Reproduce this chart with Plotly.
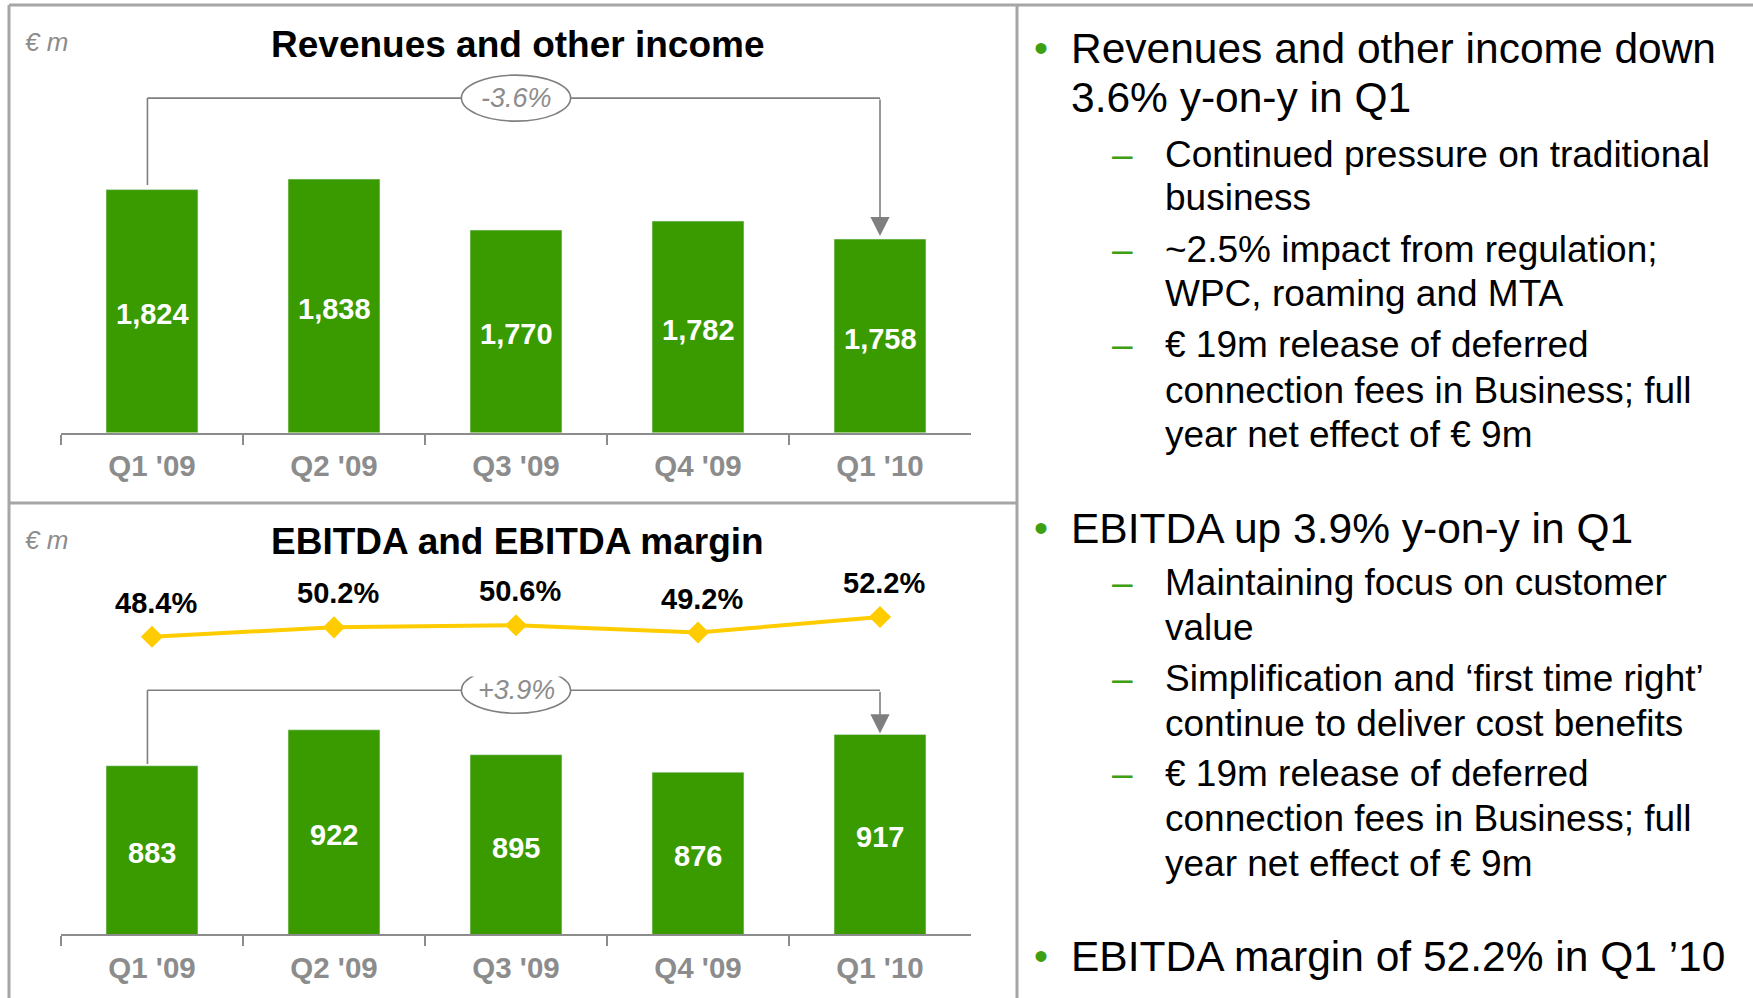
import plotly.graph_objects as go

# ---------------- data ----------------
quarters = ["Q1 '09", "Q2 '09", "Q3 '09", "Q4 '09", "Q1 '10"]
revenues = [1824, 1838, 1770, 1782, 1758]
ebitda = [883, 922, 895, 876, 917]
margin = [48.4, 50.2, 50.6, 49.2, 52.2]
rev_change = "-3.6%"
ebitda_change = "+3.9%"
top_title = "Revenues and other income"
bottom_title = "EBITDA and EBITDA margin"
unit_label = "€ m"

bullets = [
    ("main", "Revenues and other income down"),
    ("cont", "3.6% y-on-y in Q1"),
    ("sub", "Continued pressure on traditional"),
    ("subc", "business"),
    ("sub", "~2.5% impact from regulation;"),
    ("subc", "WPC, roaming and MTA"),
    ("sub", "€ 19m release of deferred"),
    ("subc", "connection fees in Business; full"),
    ("subc", "year net effect of € 9m"),
    ("main", "EBITDA up 3.9% y-on-y in Q1"),
    ("sub", "Maintaining focus on customer"),
    ("subc", "value"),
    ("sub", "Simplification and ‘first time right’"),
    ("subc", "continue to deliver cost benefits"),
    ("sub", "€ 19m release of deferred"),
    ("subc", "connection fees in Business; full"),
    ("subc", "year net effect of € 9m"),
    ("main", "EBITDA margin of 52.2% in Q1 ’10"),
]
bullet_y = [48, 98, 154, 198, 250, 294, 345, 390, 435, 528, 582, 627, 678, 723, 773, 818, 863, 956]

# ---------------- style ----------------
W, H = 1753, 998
GREEN = "#399B00"
BULLET_GREEN = "#3DA010"
YELLOW = "#FFCC00"
GRAY = "#8C8C8C"
LINE_GRAY = "#7F7F7F"
BORDER = "#A6A6A6"
FONT = "Liberation Sans, Arial, sans-serif"


def px(p):
    return p / W


def py(p):
    return 1 - p / H


x_dom = [px(61), px(971)]

fig = go.Figure()

fig.add_trace(go.Bar(
    x=quarters, y=revenues, marker_color=GREEN, width=0.505,
    xaxis="x", yaxis="y", showlegend=False, hoverinfo="skip",
))
fig.add_trace(go.Bar(
    x=quarters, y=ebitda, marker_color=GREEN, width=0.505,
    xaxis="x2", yaxis="y2", showlegend=False, hoverinfo="skip",
))
fig.add_trace(go.Scatter(
    x=quarters, y=margin, mode="lines+markers",
    line=dict(color=YELLOW, width=4),
    marker=dict(symbol="diamond", size=17, color=YELLOW),
    xaxis="x3", yaxis="y3", showlegend=False, hoverinfo="skip",
))

axis_common = dict(
    domain=x_dom, type="category", categoryorder="array", categoryarray=quarters,
    range=[-0.5, 4.5], showline=True, linecolor=GRAY, linewidth=2,
    ticks="outside", tickson="boundaries", ticklen=10, tickcolor=GRAY, tickwidth=1.5,
    tickfont=dict(color=GRAY, size=29.5, family=FONT, weight="bold"),
    showgrid=False, zeroline=False, fixedrange=True, ticklabelstandoff=6,
)

# top panel: baseline at px 432.6, 0.75 px per unit
top_range = [1500, 2000]
top_dom = [py(432.6), py(432.6 - (top_range[1] - top_range[0]) * 0.75)]
# bottom panel: baseline at px 934.3, 0.921 px per unit
bot_range = [700, 980]
bot_dom = [py(934.3), py(934.3 - (bot_range[1] - bot_range[0]) * 0.921)]
# margin line: 48.4 at px 636.7, 5.2 px per percentage point
m_top_px, m_bot_px = 560, 676
m_range = [48.4 - (m_bot_px - 636.7) / 5.2, 48.4 + (636.7 - m_top_px) / 5.2]
m_dom = [py(m_bot_px), py(m_top_px)]

hidden_y = dict(visible=False, showgrid=False, zeroline=False, fixedrange=True)

fig.update_layout(
    xaxis=dict(axis_common, anchor="y"),
    yaxis=dict(hidden_y, domain=top_dom, range=top_range, anchor="x"),
    xaxis2=dict(axis_common, anchor="y2"),
    yaxis2=dict(hidden_y, domain=bot_dom, range=bot_range, anchor="x2"),
    xaxis3=dict(domain=x_dom, type="category", categoryorder="array", categoryarray=quarters,
                range=[-0.5, 4.5], visible=False, anchor="y3", fixedrange=True),
    yaxis3=dict(hidden_y, domain=m_dom, range=m_range, anchor="x3"),
)

shapes = []
annotations = []

# value labels centred in the visible part of each bar
for xa, ya, vals, lo in (("x", "y", revenues, top_range[0]), ("x2", "y2", ebitda, bot_range[0])):
    for q, v in zip(quarters, vals):
        annotations.append(dict(xref=xa, yref=ya, x=q, y=(lo + v) / 2, text=f"<b>{v:,}</b>",
                                showarrow=False, xanchor="center", yanchor="middle", yshift=-3,
                                font=dict(size=29, color="white", family=FONT)))


def bracket(xa, ya, values, line_y, left_gap, tip_gap):
    i_last = len(values) - 1
    shapes.append(dict(type="line", xref=xa, yref=ya, x0=-0.025, x1=i_last, y0=line_y, y1=line_y,
                       line=dict(color=LINE_GRAY, width=1.6), layer="above"))
    shapes.append(dict(type="line", xref=xa, yref=ya, x0=-0.025, x1=-0.025, y0=line_y,
                       y1=values[0] + left_gap, line=dict(color=LINE_GRAY, width=1.6), layer="above"))
    annotations.append(dict(xref=xa, yref=ya, x=i_last, y=values[-1] + tip_gap,
                            axref=xa, ayref=ya, ax=i_last, ay=line_y, text="",
                            showarrow=True, arrowhead=2, arrowsize=2.4, arrowwidth=1.6,
                            arrowcolor=LINE_GRAY))


def oval(xa, ya, line_y, px_per_unit, label):
    half_w = 0.3
    shapes.append(dict(type="circle", xref=xa, yref=ya, x0=2 - half_w, x1=2 + half_w,
                       y0=line_y - 23 / px_per_unit, y1=line_y + 23 / px_per_unit,
                       fillcolor="white", line=dict(color=LINE_GRAY, width=1.6), layer="above"))
    annotations.append(dict(xref=xa, yref=ya, x=2, y=line_y, text=label, showarrow=False,
                            font=dict(size=27, color=GRAY, family=FONT, style="italic"),
                            xanchor="center", yanchor="middle"))


top_line = max(revenues) + 108
bracket("x", "y", revenues, top_line, 6, 4)
oval("x", "y", top_line, 0.75, rev_change)

bot_line = max(ebitda) + 43
bracket("x2", "y2", ebitda, bot_line, 2, 1)
oval("x2", "y2", bot_line, 0.921, ebitda_change)

# margin labels
for q, m in zip(quarters, margin):
    annotations.append(dict(xref="x3", yref="y3", x=q, y=m, text=f"<b>{m:.1f}%</b>", showarrow=False,
                            yshift=34, xshift=4,
                            font=dict(size=29, color="black", family=FONT),
                            xanchor="center", yanchor="middle"))

# titles and units
for title, ty in ((top_title, 44), (bottom_title, 541)):
    annotations.append(dict(xref="paper", yref="paper", x=px(517), y=py(ty), text=f"<b>{title}</b>",
                            showarrow=False, xanchor="center", yanchor="middle",
                            font=dict(size=37, color="black", family=FONT)))
for uy in (42, 540):
    annotations.append(dict(xref="paper", yref="paper", x=px(23), y=py(uy), text=unit_label,
                            showarrow=False, xanchor="left", yanchor="middle",
                            font=dict(size=26, color=GRAY, family=FONT, style="italic")))

# right-hand text
for (kind, txt), yy in zip(bullets, bullet_y):
    if kind in ("main", "cont"):
        if kind == "main":
            annotations.append(dict(xref="paper", yref="paper", x=px(1032), y=py(yy), text="•",
                                    showarrow=False, xanchor="left", yanchor="middle",
                                    font=dict(size=40, color=BULLET_GREEN, family=FONT)))
        annotations.append(dict(xref="paper", yref="paper", x=px(1069), y=py(yy), text=txt,
                                showarrow=False, xanchor="left", yanchor="middle",
                                font=dict(size=42.5, color="black", family=FONT)))
    else:
        if kind == "sub":
            annotations.append(dict(xref="paper", yref="paper", x=px(1110), y=py(yy), text="–",
                                    showarrow=False, xanchor="left", yanchor="middle",
                                    font=dict(size=37, color=BULLET_GREEN, family=FONT)))
        annotations.append(dict(xref="paper", yref="paper", x=px(1163), y=py(yy), text=txt,
                                showarrow=False, xanchor="left", yanchor="middle",
                                font=dict(size=37, color="black", family=FONT)))

# panel borders
border = dict(color=BORDER, width=3)
for x0, y0, x1, y1 in ((9, 5, W, 5), (9, 5, 9, H), (1017, 5, 1017, H), (9, 503, 1017, 503)):
    shapes.append(dict(type="line", xref="paper", yref="paper", x0=px(x0), y0=py(y0),
                       x1=px(x1), y1=py(y1), line=border, layer="above"))

fig.update_layout(
    width=W, height=H, margin=dict(l=0, r=0, t=0, b=0),
    paper_bgcolor="white", plot_bgcolor="white",
    shapes=shapes, annotations=annotations, showlegend=False,
    font=dict(family=FONT), bargap=0.5,
)

fig.write_html(
    "out.html",
    config={"displayModeBar": False},
    post_script="document.body.style.margin='0';document.body.style.padding='0';"
                "document.body.style.overflow='hidden';",
)
